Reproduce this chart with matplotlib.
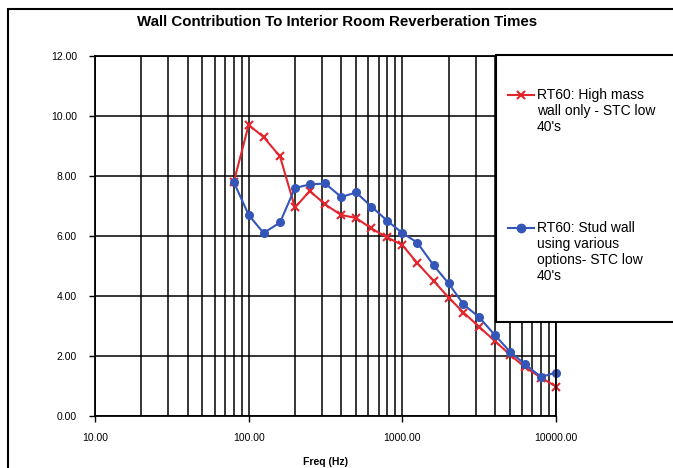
import matplotlib.pyplot as plt
from matplotlib.lines import Line2D
from matplotlib.patches import Rectangle
from matplotlib.ticker import FormatStrFormatter, LogLocator, NullFormatter

plt.rcParams['font.family'] = ['Liberation Sans', 'DejaVu Sans']

# third-octave band centres (Hz)
freq = [80, 100, 125, 160, 200, 250, 315, 400, 500, 630, 800, 1000, 1250,
        1600, 2000, 2500, 3150, 4000, 5000, 6300, 8000, 10000]
# RT60 values (s)
rt_high_mass = [7.8, 9.7, 9.3, 8.65, 6.95, 7.5, 7.05, 6.7, 6.6, 6.25, 5.95, 5.7, 5.1,
                4.5, 3.95, 3.45, 2.98, 2.5, 2.05, 1.62, 1.28, 0.98]
rt_stud = [7.8, 6.7, 6.1, 6.45, 7.6, 7.72, 7.75, 7.3, 7.45, 6.98, 6.5, 6.1, 5.78,
           5.02, 4.42, 3.72, 3.3, 2.7, 2.15, 1.72, 1.3, 1.45]

label_high = "RT60: High mass\nwall only - STC low\n40's"
label_stud = "RT60: Stud wall\nusing various\noptions- STC low\n40's"

red = '#e3262d'
blue = '#3356b8'

W, H = 673, 468
fig = plt.figure(figsize=(W / 100, H / 100), dpi=100)
ax = fig.add_axes([95 / W, 1 - 416 / H, (556 - 95) / W, (416 - 56) / H])

ax.plot(freq, rt_high_mass, color=red, lw=1.5, marker='x', ms=6, mew=1.5, clip_on=False)
ax.plot(freq, rt_stud, color=blue, lw=1.5, marker='o', ms=5.5, clip_on=False)

ax.set_xscale('log')
ax.set_xlim(10, 10000)
ax.set_ylim(0, 12)
ax.set_yticks(range(0, 13, 2))
ax.xaxis.set_major_locator(LogLocator(base=10))
ax.xaxis.set_minor_locator(LogLocator(base=10, subs=range(2, 10)))
ax.xaxis.set_minor_formatter(NullFormatter())
ax.xaxis.set_major_formatter(FormatStrFormatter('%.2f'))
ax.yaxis.set_major_formatter(FormatStrFormatter('%.2f'))
ax.tick_params(axis='both', which='major', length=4, width=1, labelsize=7.5)
ax.tick_params(axis='y', which='major', pad=9)
ax.tick_params(axis='x', which='major', pad=8)
ax.tick_params(axis='x', which='minor', length=0)
ax.grid(True, which='both', axis='x', color='black', lw=1.1)
ax.grid(True, which='major', axis='y', color='black', lw=1.1)
ax.set_axisbelow(True)
for s in ax.spines.values():
    s.set_linewidth(1.3)

ax.set_xlabel('Freq (Hz)', fontsize=7.5, fontweight='bold', labelpad=10)
fig.text(337 / W, 1 - 22 / H, 'Wall Contribution To Interior Room Reverberation Times',
         ha='center', va='center', fontsize=10.8, fontweight='bold')

# outer border (only left/top visible in the cropped original)
fig.add_artist(Rectangle((8 / W, -0.1), 1.2, 1.1 - 9 / H, transform=fig.transFigure,
                         fill=False, edgecolor='black', lw=1.5, zorder=10))

# legend box overlapping the plot, running off the right edge
fig.add_artist(Rectangle((496 / W, 1 - 322 / H), 0.5, (322 - 55) / H, transform=fig.transFigure,
                         facecolor='white', edgecolor='black', lw=1.5, zorder=5))

for y_px, col, mk, label in [(95, red, 'x', label_high), (228, blue, 'o', label_stud)]:
    yf = 1 - y_px / H
    fig.add_artist(Line2D([508 / W, 534 / W], [yf, yf], transform=fig.transFigure,
                          color=col, lw=1.5, zorder=6))
    fig.add_artist(Line2D([521 / W], [yf], transform=fig.transFigure, color=col,
                          marker=mk, ms=6 if mk == 'x' else 5.5, mew=1.5, zorder=6))
    fig.text(537 / W, yf + 7.5 / H, label, ha='left', va='top', fontsize=10,
             linespacing=1.2, zorder=7)

fig.savefig('out.png', dpi=100)
